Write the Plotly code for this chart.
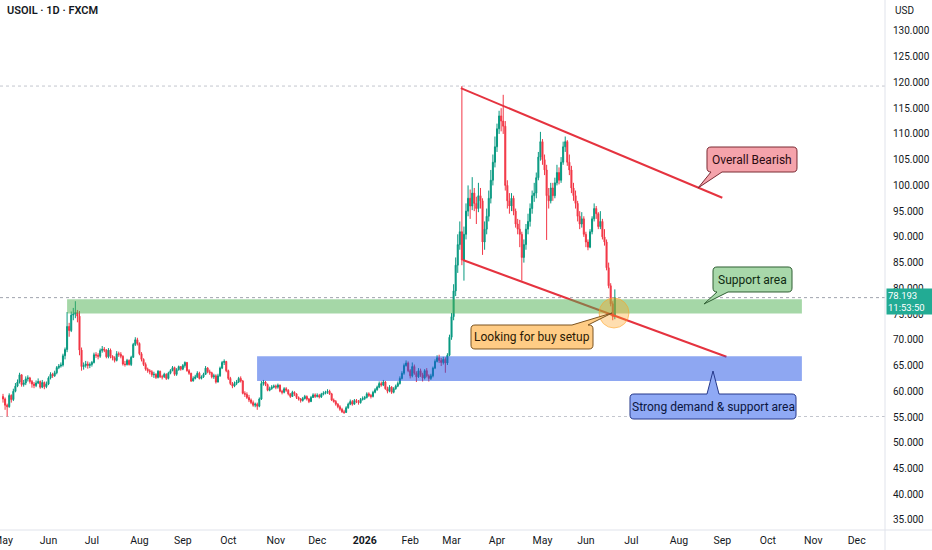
import pandas as pd
import plotly.graph_objects as go


###################
####   DATA    ####
###################
# USOIL daily closes, one row per month (business days from 1 May 2025)
closes = [
    58.5, 57.3, 57.0, 59.2, 58.4, 60.0, 61.0, 61.8, 63.2, 61.3, 61.6, 62.4, 62.6, 61.9, 61.4, 61.1, 61.6, 61.9, 60.8, 61.7, 60.9, 61.4,
    62.6, 63.3, 63.0, 63.6, 64.6, 64.9, 65.1, 66.9, 68.1, 72.6, 71.8, 74.8, 75.0, 75.3, 74.6, 68.0, 64.8, 65.0, 65.3, 65.0, 65.2,
    65.6, 67.1, 67.0, 66.8, 67.9, 68.2, 68.0, 66.7, 68.0, 66.8, 66.5, 66.0, 67.3, 67.2, 66.8, 65.3, 65.2, 66.0, 65.2, 66.6, 69.1, 70.0, 69.3,
    67.3, 66.2, 65.2, 64.3, 64.0, 63.8, 63.2, 63.3, 62.7, 63.9, 62.8, 62.8, 63.3, 62.5, 63.5, 64.0, 64.6, 63.3, 64.2, 64.8, 64.3,
    65.0, 65.6, 64.0, 63.5, 62.0, 62.5, 62.8, 63.5, 62.5, 62.8, 63.3, 64.5, 63.8, 63.6, 62.8, 63.0, 61.8, 63.0, 64.5, 65.6, 65.8, 64.0,
    62.5, 61.5, 61.0, 61.5, 61.8, 62.5, 62.0, 59.6, 59.4, 58.8, 58.3, 57.8, 57.3, 57.5, 57.1, 58.5, 61.5, 61.8, 61.3, 60.2, 60.5, 60.8, 61.0,
    60.8, 61.2, 60.0, 59.8, 60.5, 60.2, 59.5, 59.0, 59.8, 59.5, 58.8, 58.5, 58.2, 58.6, 59.0, 58.5, 58.0, 58.8, 59.3, 59.0,
    59.2, 58.9, 59.4, 59.6, 59.8, 60.0, 59.5, 58.3, 58.0, 57.5, 57.0, 56.5, 56.0, 55.9, 56.8, 57.5, 58.0, 57.5, 58.2, 58.0, 57.8, 58.4, 58.6,
    58.8, 59.5, 59.2, 59.0, 59.8, 60.3, 60.8, 61.5, 61.2, 61.8, 60.5, 60.0, 60.8, 59.8, 60.5, 61.0, 61.5, 62.5, 63.5, 65.0, 65.5, 64.0,
    63.0, 64.8, 63.5, 62.8, 64.0, 63.2, 62.6, 64.0, 63.0, 62.5, 63.0, 64.5, 65.8, 66.5, 66.0, 65.6, 66.2, 65.5, 67.0, 70.5,
    74.5, 79.5, 84.5, 88.5, 91.0, 85.5, 90.5, 95.0, 97.5, 96.0, 98.5, 96.5, 95.5, 98.0, 97.0, 89.0, 91.5, 94.0, 97.5, 101.0, 104.5, 107.5,
    111.0, 113.5, 112.5, 111.5, 100.0, 97.0, 96.0, 97.5, 95.0, 92.5, 91.5, 90.5, 86.0, 88.5, 91.5, 93.0, 95.5, 98.0, 98.5, 101.5, 105.5, 108.5,
    105.0, 103.0, 98.0, 97.0, 99.5, 98.0, 100.5, 102.5, 101.0, 104.5, 107.5, 108.5, 104.5, 103.0, 99.5, 98.0, 96.5, 94.0, 92.5, 93.5, 90.5,
    89.0, 88.0, 91.0, 93.5, 95.5, 94.5, 92.0, 93.0, 90.0, 89.0, 84.0, 80.5, 77.0, 74.5, 78.193,
]
highs = [
    59.5, 58.8, 57.6, 59.6, 59.4, 60.5, 61.6, 62.3, 63.6, 63.3, 62.2, 62.9, 63.1, 62.8, 62.2, 61.8, 62.1, 62.5, 62.1, 62.2, 61.9, 61.9,
    62.9, 63.7, 63.6, 64.0, 64.9, 65.3, 65.6, 67.3, 68.5, 75.4, 73.3, 75.5, 76.2, 77.5, 75.8, 75.6, 68.5, 65.6, 65.9, 65.8, 65.6,
    65.9, 67.5, 67.6, 67.4, 68.3, 68.8, 68.6, 68.2, 68.4, 68.3, 67.0, 66.8, 67.8, 67.7, 67.6, 67.0, 65.9, 66.3, 66.2, 66.9, 69.4, 70.5, 70.4,
    69.5, 67.6, 66.4, 65.6, 64.6, 64.3, 64.1, 63.8, 63.5, 64.1, 64.0, 63.2, 63.6, 63.5, 63.8, 64.3, 64.9, 64.8, 64.5, 65.0, 64.9,
    65.3, 65.8, 65.7, 64.3, 63.6, 62.9, 63.2, 63.9, 63.8, 63.1, 63.6, 64.9, 64.7, 64.2, 63.8, 63.4, 63.3, 63.4, 64.8, 65.9, 66.2, 65.9,
    64.2, 62.8, 61.8, 61.9, 62.2, 62.8, 62.9, 62.2, 60.0, 59.8, 59.3, 58.6, 58.2, 57.8, 57.8, 58.8, 62.0, 62.2, 62.0, 61.5, 60.9, 61.2, 61.3,
    61.3, 61.5, 61.3, 60.3, 60.8, 60.8, 60.4, 59.6, 60.1, 60.0, 59.6, 59.0, 58.7, 58.9, 59.3, 59.2, 58.7, 59.1, 59.6, 59.6,
    59.6, 59.5, 59.7, 60.0, 60.1, 60.4, 60.3, 59.7, 58.6, 58.3, 57.7, 57.3, 56.8, 56.4, 57.1, 57.8, 58.4, 58.3, 58.5, 58.5, 58.3, 58.7, 59.0,
    59.1, 59.8, 59.8, 59.5, 60.1, 60.6, 61.1, 61.9, 61.9, 62.2, 62.0, 60.9, 61.2, 61.0, 60.8, 61.3, 61.9, 62.9, 63.9, 65.4, 66.0, 65.8,
    64.3, 65.6, 65.2, 63.9, 64.5, 64.4, 63.6, 64.3, 64.5, 63.3, 63.4, 64.8, 66.2, 67.0, 67.1, 66.5, 66.7, 66.6, 67.4, 71.0,
    75.2, 80.8, 86.0, 90.5, 93.0, 119.3, 92.0, 96.5, 100.0, 99.2, 101.6, 99.5, 97.8, 100.5, 99.5, 97.5, 93.0, 95.5, 99.0, 103.0, 106.0, 109.5,
    112.0, 114.5, 115.0, 117.6, 112.5, 101.0, 98.5, 98.5, 98.0, 95.5, 93.5, 93.3, 91.0, 89.5, 92.5, 94.5, 96.5, 99.0, 100.5, 102.5, 106.5, 110.4,
    109.0, 106.0, 104.0, 99.5, 100.5, 100.5, 101.5, 104.0, 103.5, 105.5, 108.5, 109.5, 108.8, 106.0, 103.8, 100.5, 99.0, 97.0, 95.0, 94.8, 94.0,
    91.0, 89.5, 91.5, 94.0, 96.5, 96.0, 94.8, 95.0, 93.5, 91.5, 89.5, 85.0, 81.0, 77.5, 79.8,
]
lows = [
    57.8, 56.4, 55.1, 56.8, 57.8, 58.1, 59.8, 60.8, 61.5, 60.9, 60.9, 61.2, 61.9, 61.5, 60.7, 60.6, 60.8, 61.4, 60.5, 60.6, 60.4, 60.6,
    61.2, 62.3, 62.6, 62.8, 63.3, 64.3, 64.6, 64.8, 66.2, 67.6, 70.6, 71.5, 73.8, 74.2, 73.4, 67.0, 64.0, 64.2, 64.6, 64.4, 64.5,
    64.8, 65.4, 66.5, 66.2, 66.5, 67.5, 67.6, 66.4, 66.4, 66.4, 66.0, 65.6, 65.8, 66.7, 66.4, 65.0, 64.8, 65.0, 65.0, 64.9, 66.5, 68.8, 68.9,
    67.0, 65.8, 64.9, 64.0, 63.6, 63.3, 62.8, 62.6, 62.4, 62.5, 62.6, 62.3, 62.6, 62.2, 62.3, 63.3, 63.9, 63.0, 63.0, 64.0, 64.0,
    64.1, 64.6, 63.8, 63.2, 61.8, 61.9, 62.3, 62.6, 62.3, 62.3, 62.6, 63.2, 63.5, 63.2, 62.5, 62.4, 61.5, 61.7, 62.8, 64.3, 65.1, 63.7,
    62.2, 61.2, 60.6, 60.8, 61.2, 61.6, 61.7, 59.4, 58.9, 58.5, 57.9, 57.5, 57.0, 56.9, 56.4, 56.9, 58.3, 61.1, 61.0, 60.0, 60.0, 60.3, 60.6,
    60.4, 60.5, 59.8, 59.4, 59.6, 59.9, 59.2, 58.7, 58.9, 59.1, 58.5, 58.2, 57.8, 58.0, 58.4, 58.2, 57.7, 57.9, 58.7, 58.7,
    58.8, 58.6, 58.7, 59.2, 59.4, 59.5, 59.3, 58.1, 57.8, 57.2, 56.7, 56.2, 55.8, 55.6, 55.8, 56.6, 57.3, 57.2, 57.4, 57.7, 57.4, 57.6, 58.2,
    58.3, 58.6, 58.9, 58.6, 58.8, 59.6, 60.1, 60.6, 60.9, 61.0, 60.3, 59.6, 59.8, 59.5, 59.6, 60.3, 60.8, 61.3, 62.3, 63.2, 64.8, 63.7,
    62.5, 62.7, 63.2, 61.8, 62.6, 62.8, 61.9, 62.3, 62.7, 61.9, 62.2, 62.7, 64.3, 65.6, 65.5, 64.9, 65.2, 63.6, 65.1, 66.8,
    70.0, 73.8, 78.5, 83.0, 87.5, 84.5, 81.5, 89.5, 94.0, 93.5, 95.2, 95.0, 92.5, 94.8, 95.5, 86.5, 87.5, 90.5, 93.0, 96.5, 100.0, 103.5,
    106.5, 110.0, 110.5, 110.0, 99.0, 95.5, 94.5, 95.0, 94.2, 91.8, 90.5, 88.0, 81.5, 85.0, 87.5, 90.5, 92.0, 94.5, 96.8, 97.5, 101.0, 104.8,
    104.0, 102.0, 89.4, 95.5, 96.5, 97.0, 97.5, 100.0, 100.2, 100.5, 104.0, 106.5, 103.8, 102.0, 98.5, 97.0, 95.5, 93.0, 91.5, 91.8, 90.0,
    88.0, 87.4, 87.8, 90.5, 93.0, 93.5, 91.5, 91.5, 89.5, 88.3, 83.5, 80.0, 76.5, 73.8, 74.0,
]
first_open = 59.0

# drawn trend lines (date, price)
upper_line_x = ["2026-03-06 12:00", "2026-09-01"]
upper_line_y = [118.9, 97.6]
lower_line_x = ["2026-03-09 12:00", "2026-09-03"]
lower_line_y = [85.5, 66.7]

# drawn zones
support_zone_x = ["2025-06-13", "2026-10-23 12:00"]
support_zone_y = [75.1, 77.9]
demand_zone_x = ["2025-10-20 22:00", "2026-10-23 12:00"]
demand_zone_y = [62.0, 66.8]

# time axis labels
tick_dates = ["2025-05-01", "2025-06-02", "2025-07-01", "2025-08-01", "2025-09-01", "2025-10-01",
              "2025-11-03", "2025-12-01", "2026-01-01", "2026-02-02", "2026-03-02", "2026-04-01",
              "2026-05-01", "2026-06-01", "2026-07-01", "2026-08-03", "2026-09-01", "2026-10-01",
              "2026-11-02", "2026-12-01"]
tick_labels = ["May", "Jun", "Jul", "Aug", "Sep", "Oct", "Nov", "Dec", "<b>2026</b>", "Feb", "Mar", "Apr",
               "May", "Jun", "Jul", "Aug", "Sep", "Oct", "Nov", "Dec"]


###################
#### CONSTANTS ####
###################
UP = "#089981"
DOWN = "#F23645"
TEXT = "#131722"
BORDER = "#E0E3EB"
PLOT_W = 885
PLOT_H = 530


def px(x):
    return x / PLOT_W


def py(y):
    return 1 - y / PLOT_H


def bubble_path(x0, y0, x1, y1, side, bx0, bx1, tip, r=4):
    """Rounded box with a speech tail, pixel coords -> paper path"""
    P = lambda x, y: "{:.5f},{:.5f}".format(px(x), py(y))
    s = "M" + P(x0 + r, y0)
    if side == "top":
        s += " L" + P(bx0, y0) + " L" + P(*tip) + " L" + P(bx1, y0)
    s += " L" + P(x1 - r, y0) + " Q" + P(x1, y0) + " " + P(x1, y0 + r)
    s += " L" + P(x1, y1 - r) + " Q" + P(x1, y1) + " " + P(x1 - r, y1)
    if side == "bottom":
        s += " L" + P(bx1, y1) + " L" + P(*tip) + " L" + P(bx0, y1)
    s += " L" + P(x0 + r, y1) + " Q" + P(x0, y1) + " " + P(x0, y1 - r)
    s += " L" + P(x0, y0 + r) + " Q" + P(x0, y0) + " " + P(x0 + r, y0) + " Z"
    return s


callouts = [
    dict(text="Overall Bearish", box=(707, 147, 797, 172), side="bottom", base=(711, 722), tip=(698, 188),
         fill="#F5A3AB", line="#7A2A33", color="#2B0B10"),
    dict(text="Support area", box=(713, 267, 792, 292), side="bottom", base=(717, 728), tip=(704, 304),
         fill="#A8D8AA", line="#2F5F33", color="#0F2A12"),
    dict(text="Looking for buy setup", box=(471, 325, 593, 349), side="top", base=(572, 588), tip=(612, 313),
         fill="#FFCC85", line="#7A5320", color="#2A1A05"),
    dict(text="Strong demand & support area", box=(630, 394, 796, 419), side="top", base=(707, 719), tip=(713, 371),
         fill="#8FA9F5", line="#26398A", color="#0B1640"),
]


###################
####  FIGURE   ####
###################
dates = pd.bdate_range("2025-05-01", periods=len(closes))
opens = [first_open] + closes[:-1]
highs = [max(h, o, c) for h, o, c in zip(highs, opens, closes)]
lows = [min(l, o, c) for l, o, c in zip(lows, opens, closes)]

fig = go.Figure()
fig.add_trace(go.Candlestick(x=dates, open=opens, high=highs, low=lows, close=closes,
                             increasing=dict(line=dict(color=UP, width=1), fillcolor=UP),
                             decreasing=dict(line=dict(color=DOWN, width=1), fillcolor=DOWN),
                             whiskerwidth=0, showlegend=False, hoverinfo="skip"))
for lx, ly in [(upper_line_x, upper_line_y), (lower_line_x, lower_line_y)]:
    fig.add_trace(go.Scatter(x=lx, y=ly, mode="lines", line=dict(color="#E5333F", width=2),
                             showlegend=False, hoverinfo="skip"))

shapes = []
# zones
shapes.append(dict(type="rect", xref="x", yref="y", x0=support_zone_x[0], x1=support_zone_x[1],
                   y0=support_zone_y[0], y1=support_zone_y[1], fillcolor="rgba(76,175,80,0.5)", line_width=0))
shapes.append(dict(type="rect", xref="x", yref="y", x0=demand_zone_x[0], x1=demand_zone_x[1],
                   y0=demand_zone_y[0], y1=demand_zone_y[1], fillcolor="rgba(30,80,230,0.5)", line_width=0))
# high / low / last price lines
for level, col in [(max(highs), "#C3C6CE"), (min(lows), "#C3C6CE"), (closes[-1], "#9FA3AD")]:
    shapes.append(dict(type="line", xref="paper", yref="y", x0=0, x1=1, y0=level, y1=level,
                       line=dict(color=col, width=1, dash="dot"), layer="below"))
# panel borders
shapes.append(dict(type="line", xref="paper", yref="paper", x0=1, x1=1, y0=-20 / PLOT_H, y1=1,
                   line=dict(color=BORDER, width=1)))
shapes.append(dict(type="line", xref="paper", yref="paper", x0=0, x1=932 / PLOT_W, y0=0, y1=0,
                   line=dict(color=BORDER, width=1)))
# orange marker circle
shapes.append(dict(type="circle", xref="paper", yref="paper", x0=px(599), x1=px(629), y0=py(328), y1=py(298),
                   fillcolor="rgba(255,160,30,0.35)", line=dict(color="rgba(255,160,30,0.55)", width=1)))

annotations = []
for c in callouts:
    x0, y0, x1, y1 = c["box"]
    shapes.append(dict(type="path", xref="paper", yref="paper",
                       path=bubble_path(x0, y0, x1, y1, c["side"], c["base"][0], c["base"][1], c["tip"]),
                       fillcolor=c["fill"], line=dict(color=c["line"], width=1)))
    annotations.append(dict(xref="paper", yref="paper", x=px((x0 + x1) / 2), y=py((y0 + y1) / 2),
                            text=c["text"], showarrow=False, xanchor="center", yanchor="middle",
                            font=dict(size=12, color=c["color"], family="Roboto")))

annotations.append(dict(xref="paper", yref="paper", x=px(5), y=py(11), text="USOIL · 1D · FXCM",
                        showarrow=False, xanchor="left", yanchor="middle",
                        font=dict(size=11, color=TEXT, weight=600)))
annotations.append(dict(xref="paper", yref="paper", x=px(893), y=py(11), text="USD",
                        showarrow=False, xanchor="left", yanchor="middle", font=dict(size=10, color=TEXT)))
annotations.append(dict(xref="paper", yref="y", x=1, y=closes[-1], xshift=1, yshift=-4,
                        text="{:.3f}<br>11:53:50".format(closes[-1]), showarrow=False,
                        xanchor="left", yanchor="middle", align="left",
                        bgcolor="#22AB94", borderpad=1, width=44,
                        font=dict(size=9.5, color="white")))

fig.update_layout(
    width=932, height=550,
    margin=dict(l=0, r=47, t=0, b=20, autoexpand=False),
    paper_bgcolor="white", plot_bgcolor="white",
    font=dict(family="Roboto", size=11, color=TEXT),
    shapes=shapes, annotations=annotations,
    xaxis=dict(type="date", rangeslider=dict(visible=False),
               rangebreaks=[dict(bounds=["sat", "mon"])],
               range=["2025-04-29 13:00", "2026-12-18 17:00"],
               tickvals=tick_dates, ticktext=tick_labels, ticks="",
               ticklabeloverflow="allow", automargin=False,
               showgrid=False, zeroline=False, ticklabelstandoff=2,
               tickfont=dict(size=10.5, color=TEXT)),
    yaxis=dict(side="right", range=[33.05, 136.02], tick0=35, dtick=5, tickformat=".3f",
               automargin=False,
               showgrid=False, zeroline=False, ticks="", ticklabelstandoff=7,
               tickfont=dict(size=10, color=TEXT)),
)

# page body margin off so the 932x550 figure fills the window exactly
fig.write_html("out.html", config={"displayModeBar": False},
               post_script="document.body.style.margin='0';")
